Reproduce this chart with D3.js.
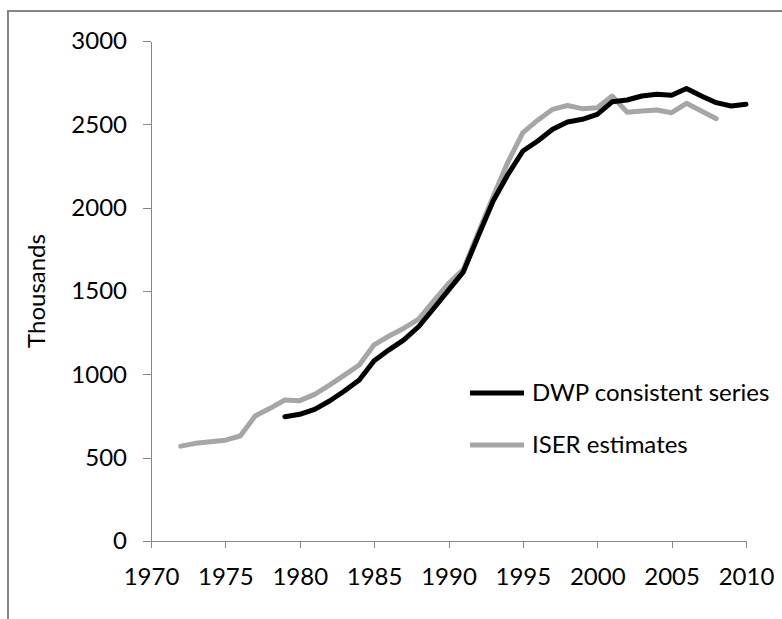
<!DOCTYPE html>
<html>
<head>
<meta charset="utf-8">
<script src="https://cdn.jsdelivr.net/npm/d3@7"></script>
<style>
  body { margin: 0; background: #fff; }
  text { font-family: Lato, "Open Sans", sans-serif; fill: #000; }
</style>
</head>
<body>
<div id="chart"></div>
<script>
// DWP consistent series (thousands), 1979-2010
const dwp_years = d3.range(1979, 2011)
const dwp_values = [746, 760, 790, 840, 900, 966, 1082, 1147, 1207, 1287, 1395, 1505, 1615, 1830, 2040, 2200,
                    2340, 2400, 2470, 2514, 2530, 2560, 2635, 2646, 2670, 2680, 2675, 2715, 2670, 2630, 2610, 2620]

// ISER estimates (thousands), 1972-2008
const iser_years = d3.range(1972, 2009)
const iser_values = [569, 586, 595, 605, 630, 750, 796, 846, 842, 880, 935, 995, 1056, 1177, 1230, 1277, 1331,
                     1440, 1545, 1630, 1850, 2065, 2275, 2450, 2525, 2590, 2613, 2594, 2600, 2670, 2573, 2580,
                     2586, 2570, 2626, 2580, 2534]

const x_ticks = [1970, 1975, 1980, 1985, 1990, 1995, 2000, 2005, 2010]
const y_ticks = [0, 500, 1000, 1500, 2000, 2500, 3000]

const series = [
    { label: "DWP consistent series", color: "#000000", years: dwp_years, values: dwp_values },
    { label: "ISER estimates", color: "#a6a6a6", years: iser_years, values: iser_values }
]

const width = 782,
      height = 619

const axis_color = "#868686"
const font_size = "24px"

const svg = d3.select("#chart")
    .append("svg")
    .attr("width", width)
    .attr("height", height)

// chart frame (only left and top edges are visible in the crop)
svg.append("path")
    .attr("d", `M 8 ${height} V 11 H ${width}`)
    .attr("fill", "none")
    .attr("stroke", axis_color)
    .attr("stroke-width", 2)

let x = d3.scaleLinear()
    .domain([1970, 2010])
    .range([151, 746])

let y = d3.scaleLinear()
    .domain([0, 3000])
    .range([541, 41])

const x_axis = svg.append("g")
    .attr("transform", `translate(0, ${y(0)})`)
    .call(d3.axisBottom(x).tickValues(x_ticks).tickFormat(d3.format("d")).tickSize(7).tickSizeOuter(0).tickPadding(20))

const y_axis = svg.append("g")
    .attr("transform", `translate(${x(1970)}, 0)`)
    .call(d3.axisLeft(y).tickValues(y_ticks).tickFormat(d3.format("d")).tickSize(8).tickSizeOuter(0).tickPadding(16))

for (const axis of [x_axis, y_axis]) {
    axis.selectAll("path, line").attr("stroke", axis_color).attr("shape-rendering", "crispEdges")
    axis.selectAll("text").attr("font-size", font_size).attr("font-family", "Lato, sans-serif").attr("fill", "#000")
}

svg.append("text")
    .attr("transform", `translate(45, ${(y(0) + y(3000)) / 2}), rotate(-90)`)
    .attr("font-size", font_size)
    .style("text-anchor", "middle")
    .text("Thousands")

const line = d3.line()
    .x(d => x(d[0]))
    .y(d => y(d[1]))

// grey drawn first so the black series sits on top
for (const s of [series[1], series[0]]) {
    svg.append("path")
        .datum(d3.zip(s.years, s.values))
        .attr("fill", "none")
        .attr("stroke", s.color)
        .attr("stroke-width", 5)
        .attr("stroke-linejoin", "round")
        .attr("stroke-linecap", "round")
        .attr("d", line)
}

const legend = svg.append("g")
    .attr("transform", "translate(470, 393)")

series.forEach((s, i) => {
    legend.append("line")
        .attr("x1", 0)
        .attr("x2", 54)
        .attr("y1", i * 52)
        .attr("y2", i * 52)
        .attr("stroke", s.color)
        .attr("stroke-width", 5)
    legend.append("text")
        .attr("x", 62)
        .attr("y", i * 52)
        .attr("dy", "0.35em")
        .attr("font-size", font_size)
        .text(s.label)
})
</script>
</body>
</html>
